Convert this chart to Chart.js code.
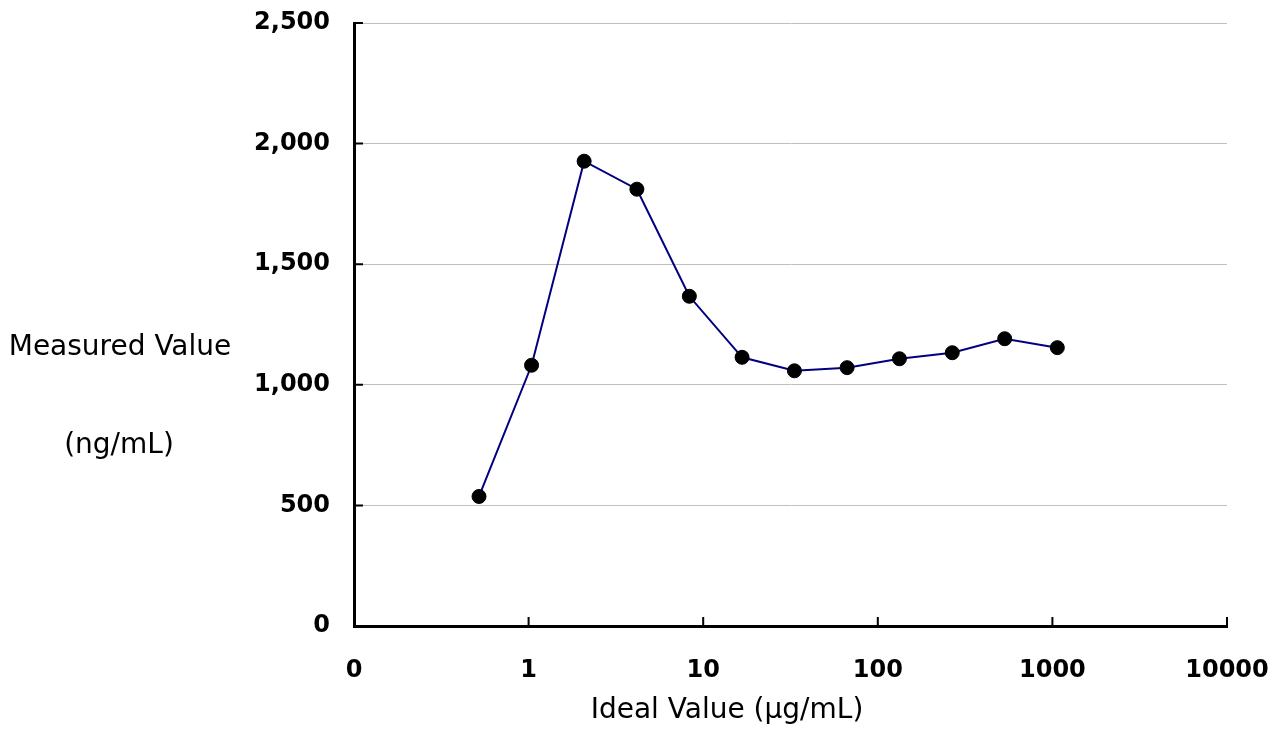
<!DOCTYPE html>
<html lang="en">
<head>
    <meta charset="UTF-8">
    <title>Measured vs Ideal Value</title>
    <style>
        body {
            margin: 0;
            padding: 0;
            background: #fff;
            overflow: hidden;
        }
        .chart-box {
            width: 1273px;
            height: 754px;
        }
    </style>
</head>
<body>
    <div class="chart-box">
        <canvas id="mainChart"></canvas>
    </div>

    <script src="https://cdn.jsdelivr.net/npm/chart.js"></script>
    <script>
        // Data
        const idealValues = [0.52, 1.04, 2.08, 4.17, 8.33, 16.7, 33.3, 66.7, 133, 267, 533, 1067];
        const measuredValues = [537, 1081, 1927, 1811, 1367, 1114, 1058, 1071, 1108, 1133, 1191, 1154];

        const xTickValues = [0.1, 1, 10, 100, 1000, 10000];
        const xTickLabels = ['0', '1', '10', '100', '1000', '10000'];

        const yTitleLines = ['Measured Value', '(ng/mL)'];
        const xTitle = 'Ideal Value (\u03bcg/mL)';

        const points = idealValues.map((x, i) => ({ x: x, y: measuredValues[i] }));

        // titles and inward tick marks
        const extrasPlugin = {
            id: 'extras',
            afterDraw(chart) {
                const ctx = chart.ctx;
                const area = chart.chartArea;
                const xs = chart.scales.x;
                const ys = chart.scales.y;

                ctx.save();
                ctx.strokeStyle = '#000';
                ctx.lineWidth = 2;
                ctx.beginPath();
                ys.ticks.forEach(t => {
                    const py = ys.getPixelForValue(t.value);
                    ctx.moveTo(area.left, py);
                    ctx.lineTo(area.left + 9, py);
                });
                xs.ticks.forEach(t => {
                    const px = xs.getPixelForValue(t.value);
                    ctx.moveTo(px, area.bottom);
                    ctx.lineTo(px, area.bottom - 9);
                });
                ctx.stroke();

                ctx.fillStyle = '#000';
                ctx.font = '28px "DejaVu Sans"';
                ctx.textAlign = 'center';
                ctx.textBaseline = 'middle';
                ctx.fillText(yTitleLines[0], 120, 348);
                ctx.fillText(yTitleLines[1], 119, 446);
                ctx.fillText(xTitle, 727, 711);
                ctx.restore();
            }
        };

        const ctx = document.getElementById('mainChart').getContext('2d');
        const mainChart = new Chart(ctx, {
            type: 'line',
            data: {
                datasets: [{
                    data: points,
                    borderColor: '#000080',
                    borderWidth: 2,
                    pointRadius: 7,
                    pointBorderWidth: 1,
                    pointBackgroundColor: '#000',
                    pointBorderColor: '#000',
                    tension: 0,
                    fill: false
                }]
            },
            options: {
                responsive: true,
                maintainAspectRatio: false,
                animation: false,
                layout: {
                    padding: { top: 23, right: 46, left: 0, bottom: 0 }
                },
                plugins: {
                    legend: { display: false },
                    tooltip: { enabled: false }
                },
                scales: {
                    x: {
                        type: 'logarithmic',
                        min: 0.1,
                        max: 10000,
                        afterBuildTicks: scale => {
                            scale.ticks = xTickValues.map(v => ({ value: v }));
                        },
                        afterFit: scale => {
                            scale.height = 128;
                            scale.paddingLeft = 0;
                            scale.paddingRight = 0;
                        },
                        ticks: {
                            autoSkip: false,
                            maxRotation: 0,
                            padding: 30,
                            color: '#000',
                            font: { family: 'DejaVu Sans', size: 24, weight: 'bold' },
                            callback: function (value) {
                                const idx = xTickValues.indexOf(value);
                                return idx >= 0 ? xTickLabels[idx] : '';
                            }
                        },
                        grid: {
                            display: false,
                            drawTicks: false
                        },
                        border: { display: true, color: '#000', width: 3 }
                    },
                    y: {
                        min: 0,
                        max: 2500,
                        afterFit: scale => {
                            scale.width = 354;
                            scale.paddingTop = 0;
                            scale.paddingBottom = 0;
                        },
                        ticks: {
                            stepSize: 500,
                            padding: 24,
                            color: '#000',
                            font: { family: 'DejaVu Sans', size: 24, weight: 'bold' },
                            callback: value => value.toLocaleString('en-US')
                        },
                        grid: {
                            color: '#c0c0c0',
                            lineWidth: 1,
                            drawTicks: false
                        },
                        border: { display: true, color: '#000', width: 3 }
                    }
                }
            },
            plugins: [extrasPlugin]
        });
    </script>
</body>
</html>
